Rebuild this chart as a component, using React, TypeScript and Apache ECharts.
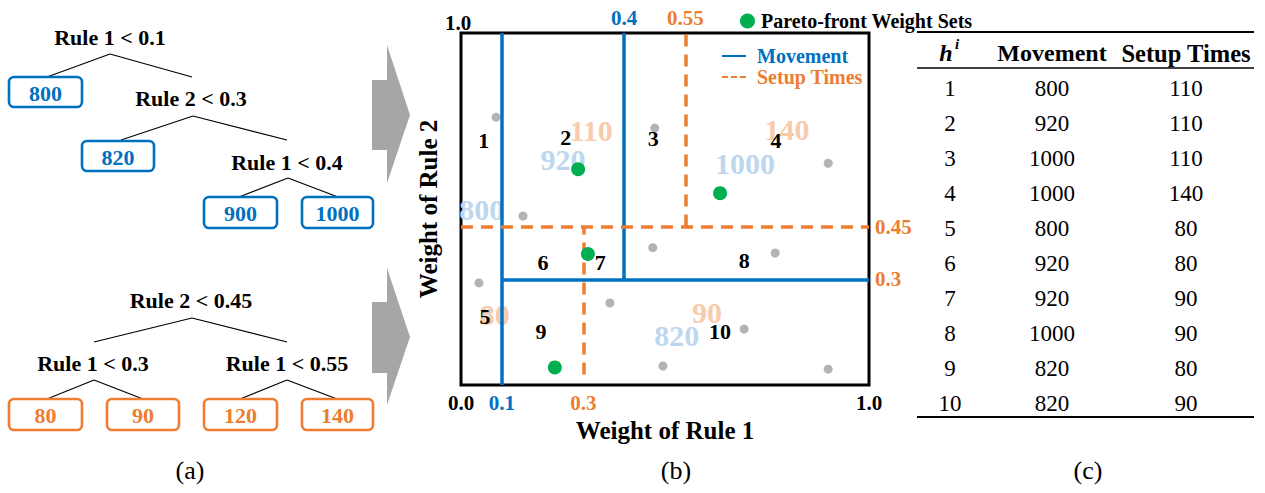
import React, { useEffect, useRef } from "react";
import * as echarts from "echarts";

// ---------- data ----------
const movementRules = ["Rule 1 < 0.1", "Rule 2 < 0.3", "Rule 1 < 0.4"];
const movementLeaves = ["800", "820", "900", "1000"];
const setupRules = ["Rule 2 < 0.45", "Rule 1 < 0.3", "Rule 1 < 0.55"];
const setupLeaves = ["80", "90", "120", "140"];

const tableIds = ["1", "2", "3", "4", "5", "6", "7", "8", "9", "10"];
const tableMovement = [800, 920, 1000, 1000, 800, 920, 920, 1000, 820, 820];
const tableSetup = [110, 110, 110, 140, 80, 80, 90, 90, 80, 90];

const movementSplitLines = [
  [[0.1, 0], [0.1, 1]],
  [[0.4, 0.3], [0.4, 1]],
  [[0.1, 0.3], [1, 0.3]],
];
const setupSplitLines = [
  [[0, 0.45], [1, 0.45]],
  [[0.55, 0.45], [0.55, 1]],
  [[0.3, 0.03], [0.3, 0.45]],
];

const paretoPoints = [
  [0.287, 0.613],
  [0.635, 0.545],
  [0.311, 0.372],
  [0.23, 0.05],
];
const otherPoints = [
  [0.086, 0.761],
  [0.152, 0.48],
  [0.475, 0.73],
  [0.9, 0.63],
  [0.044, 0.29],
  [0.365, 0.233],
  [0.495, 0.054],
  [0.47, 0.39],
  [0.77, 0.375],
  [0.694, 0.159],
  [0.9, 0.045],
];

const regionNames = ["1", "2", "3", "4", "5", "6", "7", "8", "9", "10"];
const regionPos = [
  [0.056, 0.696],
  [0.257, 0.702],
  [0.471, 0.699],
  [0.772, 0.696],
  [0.059, 0.196],
  [0.201, 0.349],
  [0.341, 0.349],
  [0.694, 0.355],
  [0.196, 0.151],
  [0.635, 0.151],
];

const movementValueNames = ["800", "920", "1000", "820"];
const movementValuePos = [
  [0.051, 0.5],
  [0.25, 0.642],
  [0.696, 0.628],
  [0.529, 0.142],
];
const setupValueNames = ["110", "140", "80", "90"];
const setupValuePos = [
  [0.319, 0.722],
  [0.799, 0.727],
  [0.083, 0.199],
  [0.603, 0.205],
];

const xBottomTickValues = [0, 0.1, 0.3, 1];
const xBottomTickLabels = ["0.0", "0.1", "0.3", "1.0"];
const xTopTickValues = [0.4, 0.55];
const xTopTickLabels = ["0.4", "0.55"];
const yLeftTickValues = [1];
const yLeftTickLabels = ["1.0"];
const yRightTickValues = [0.45, 0.3];
const yRightTickLabels = ["0.45", "0.3"];

// ---------- styles ----------
const FONT = '"Liberation Serif", "Times New Roman", Times, serif';
const BLUE = "#0070c0";
const ORANGE = "#ed7d31";
const LIGHT_BLUE = "#bdd7ee";
const LIGHT_ORANGE = "#f8cbad";
const GREEN = "#00b050";
const GRAY = "#b3b3b3";

function findIdx(values: number[], v: number) {
  return values.findIndex((x) => Math.abs(x - v) < 1e-6);
}

function tickFormatter(values: number[], labels: string[]) {
  return (v: any) => {
    const i = findIdx(values, Number(v));
    return i >= 0 ? labels[i] : "";
  };
}

function tickColor(map: (v: number) => string) {
  return (v: any) => map(Number(v));
}

function colorOfValue(v: number) {
  if (Math.abs(v - 0.1) < 1e-6 || Math.abs(v - 0.4) < 1e-6) return BLUE;
  if (Math.abs(v - 0.3) < 1e-6 || Math.abs(v - 0.55) < 1e-6 || Math.abs(v - 0.45) < 1e-6) return ORANGE;
  return "#000";
}

function text(x: number, y: number, t: string, opts: any = {}) {
  return {
    type: "text",
    x,
    y,
    style: {
      text: t,
      fontFamily: FONT,
      fontSize: opts.size || 22,
      fontWeight: opts.weight || "normal",
      fontStyle: opts.style || "normal",
      fill: opts.color || "#000",
      align: opts.align || "center",
      verticalAlign: "middle",
    },
    z: 10,
  };
}

function line(x1: number, y1: number, x2: number, y2: number, w = 1.2) {
  return {
    type: "line",
    shape: { x1, y1, x2, y2 },
    style: { stroke: "#000", lineWidth: w },
    z: 10,
  };
}

function buildTree(
  rules: string[],
  leaves: string[],
  color: string,
  ruleCenters: number[][],
  edges: number[][],
  boxes: number[][]
) {
  const els: any[] = [];
  rules.forEach((r, i) => els.push(text(ruleCenters[i][0], ruleCenters[i][1], r, { size: 22, weight: "bold" })));
  edges.forEach((e) => els.push(line(e[0], e[1], e[2], e[3])));
  leaves.forEach((l, i) => {
    const b = boxes[i];
    els.push({
      type: "rect",
      shape: { x: b[0], y: b[1], width: b[2], height: b[3], r: 5 },
      style: { fill: "#fff", stroke: color, lineWidth: 2.6 },
      z: 10,
    });
    els.push(text(b[0] + b[2] / 2, b[1] + b[3] / 2 + 1, l, { size: 22, weight: "bold", color }));
  });
  return els;
}

function buildGraphics() {
  const els: any[] = [];
  els.push(
    ...buildTree(
      movementRules,
      movementLeaves,
      BLUE,
      [
        [110, 37],
        [191, 98],
        [287, 162],
      ],
      [
        [110, 54, 47, 77],
        [110, 54, 192, 77],
        [193, 116, 121, 140],
        [193, 116, 287, 140],
        [288, 178, 239, 197],
        [288, 178, 338, 197],
      ],
      [
        [9, 77, 73, 30],
        [82, 141, 72, 30],
        [204, 197, 73, 31],
        [302, 197, 71, 31],
      ]
    )
  );
  els.push(
    ...buildTree(
      setupRules,
      setupLeaves,
      ORANGE,
      [
        [191, 300],
        [93, 363],
        [287, 363],
      ],
      [
        [192, 318, 94, 342],
        [192, 318, 287, 342],
        [94, 380, 47, 399],
        [94, 380, 143, 399],
        [287, 380, 240, 399],
        [287, 380, 337, 399],
      ],
      [
        [9, 399, 73, 31],
        [107, 399, 72, 31],
        [204, 399, 73, 31],
        [302, 399, 71, 31],
      ]
    )
  );
  // arrows
  const arrows = [
    [[372, 80], [387, 80], [387, 45], [410, 115], [387, 183], [387, 150], [372, 150]],
    [[372, 302], [387, 302], [387, 268], [410, 337], [387, 405], [387, 373], [372, 373]],
  ];
  arrows.forEach((pts) =>
    els.push({ type: "polygon", shape: { points: pts }, style: { fill: "#a6a6a6" }, z: 10 })
  );

  // table
  const cx = [950, 1052, 1186];
  els.push(line(917, 32, 1254, 32, 2));
  els.push(line(917, 68, 1254, 68, 1.5));
  els.push(line(917, 417, 1254, 417, 2));
  els.push(text(946, 53, "h", { size: 24, weight: "bold", style: "italic" }));
  els.push(text(957, 44, "i", { size: 15, weight: "bold", style: "italic" }));
  els.push(text(cx[1], 53, "Movement", { size: 24, weight: "bold" }));
  els.push(text(cx[2], 53, "Setup Times", { size: 24.5, weight: "bold" }));
  tableIds.forEach((id, i) => {
    const y = 88 + i * 35;
    els.push(text(cx[0], y, id, { size: 23 }));
    els.push(text(cx[1], y, String(tableMovement[i]), { size: 23 }));
    els.push(text(cx[2], y, String(tableSetup[i]), { size: 23 }));
  });

  // captions
  els.push(text(190, 470, "(a)", { size: 26 }));
  els.push(text(676, 470, "(b)", { size: 26 }));
  els.push(text(1088, 470, "(c)", { size: 26 }));
  return els;
}

function markLineData(lines: number[][][]) {
  return lines.map((l) => [{ coord: l[0] }, { coord: l[1] }]);
}

function labelSeries(names: string[], pos: number[][], color: string, size: number, z: number) {
  return {
    type: "scatter",
    symbolSize: 0,
    silent: true,
    z,
    itemStyle: { color: "transparent", opacity: 1 },
    data: names.map((n, i) => ({ name: n, value: pos[i] })),
    label: {
      show: true,
      position: "inside",
      formatter: "{b}",
      color,
      opacity: 1,
      textBorderWidth: 0,
      textBorderColor: "transparent",
      fontFamily: FONT,
      fontWeight: "bold",
      fontSize: size,
    },
  };
}

const axisCommon = {
  type: "value",
  min: 0,
  max: 1,
  interval: 0.05,
  axisLine: { show: false },
  axisTick: { show: false },
  splitLine: { show: false },
};

export default function App() {
  const ref = useRef<HTMLDivElement>(null);
  useEffect(() => {
    if (!ref.current) return;
    const chart = echarts.init(ref.current, undefined, { renderer: "svg" });
    const tickFont = { fontFamily: FONT, fontWeight: "bold", fontSize: 21 };
    const option: any = {
      animation: false,
      backgroundColor: "#fff",
      textStyle: { fontFamily: FONT },
      grid: {
        left: 461,
        top: 33,
        width: 408,
        height: 352,
        show: true,
        borderColor: "#000",
        borderWidth: 3,
        backgroundColor: "transparent",
      },
      legend: [
        {
          data: [{ name: "Pareto-front Weight Sets", icon: "circle" }],
          left: 735,
          top: 6,
          itemWidth: 15,
          itemHeight: 15,
          itemGap: 4,
          textStyle: { fontFamily: FONT, fontWeight: "bold", fontSize: 20, color: "#000", padding: [0, 0, 0, 1] },
          selectedMode: false,
        },
        {
          data: [
            { name: "Movement", icon: "rect", textStyle: { color: BLUE } },
            {
              name: "Setup Times",
              icon: "path://M0,0h6v2h-6z M9,0h6v2h-6z M18,0h6v2h-6z",
              textStyle: { color: ORANGE },
            },
          ],
          orient: "vertical",
          left: 717,
          top: 41,
          itemWidth: 24,
          itemHeight: 2,
          itemGap: 1,
          textStyle: { fontFamily: FONT, fontWeight: "bold", fontSize: 20, lineHeight: 20, padding: [0, 0, 0, 6] },
          selectedMode: false,
        },
      ],
      xAxis: [
        {
          ...axisCommon,
          position: "bottom",
          name: "Weight of Rule 1",
          nameLocation: "middle",
          nameGap: 26,
          nameTextStyle: { fontFamily: FONT, fontWeight: "bold", fontSize: 25, color: "#000" },
          axisLabel: {
            ...tickFont,
            margin: 7,
            hideOverlap: false,
            formatter: tickFormatter(xBottomTickValues, xBottomTickLabels),
            color: tickColor(colorOfValue),
          },
        },
        {
          ...axisCommon,
          position: "top",
          axisLabel: {
            ...tickFont,
            margin: 5,
            hideOverlap: false,
            formatter: tickFormatter(xTopTickValues, xTopTickLabels),
            color: tickColor(colorOfValue),
          },
        },
      ],
      yAxis: [
        {
          ...axisCommon,
          position: "left",
          name: "Weight of Rule 2",
          nameLocation: "middle",
          nameGap: 6,
          nameTextStyle: { fontFamily: FONT, fontWeight: "bold", fontSize: 25, color: "#000" },
          axisLabel: {
            ...tickFont,
            margin: 3,
            align: "center",
            verticalAlign: "bottom",
            hideOverlap: false,
            formatter: tickFormatter(yLeftTickValues, yLeftTickLabels),
            color: "#000",
          },
        },
        {
          ...axisCommon,
          position: "right",
          axisLabel: {
            ...tickFont,
            margin: 6,
            hideOverlap: false,
            formatter: tickFormatter(yRightTickValues, yRightTickLabels),
            color: tickColor(colorOfValue),
          },
        },
      ],
      series: [
        {
          name: "Movement",
          type: "line",
          data: [],
          symbol: "none",
          color: BLUE,
          lineStyle: { color: BLUE, width: 1.5, type: "solid" },
          markLine: {
            silent: true,
            symbol: ["none", "none"],
            label: { show: false },
            lineStyle: { color: BLUE, width: 3.5, type: "solid" },
            data: markLineData(movementSplitLines),
          },
          z: 6,
        },
        {
          name: "Setup Times",
          type: "line",
          data: [],
          symbol: "none",
          color: ORANGE,
          lineStyle: { color: ORANGE, width: 1.5, type: [4, 4] },
          markLine: {
            silent: true,
            symbol: ["none", "none"],
            label: { show: false },
            lineStyle: { color: ORANGE, width: 3.5, type: [12, 8] },
            data: markLineData(setupSplitLines),
          },
          z: 5,
        },
        labelSeries(movementValueNames, movementValuePos, LIGHT_BLUE, 30, 1),
        labelSeries(setupValueNames, setupValuePos, LIGHT_ORANGE, 30, 1),
        {
          name: "Others",
          type: "scatter",
          symbolSize: 9,
          itemStyle: { color: GRAY, opacity: 1 },
          data: otherPoints,
          z: 3,
        },
        labelSeries(regionNames, regionPos, "#000", 22, 4),
        {
          name: "Pareto-front Weight Sets",
          type: "scatter",
          symbolSize: 14,
          itemStyle: { color: GREEN, opacity: 1 },
          data: paretoPoints,
          z: 7,
        },
      ],
      graphic: buildGraphics(),
    };
    chart.setOption(option);
    return () => chart.dispose();
  }, []);
  return (
    <div
      ref={ref}
      style={{ position: "fixed", left: 0, top: 0, width: 1265, height: 493, background: "#fff" }}
    />
  );
}
